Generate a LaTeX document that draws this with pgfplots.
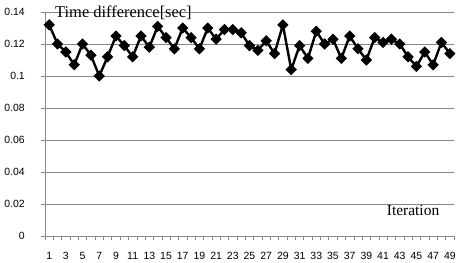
\documentclass[border=0pt]{standalone}
\usepackage{fontspec}
\setmainfont{Liberation Sans}
\newfontfamily\seriffont{Liberation Serif}
\usepackage{pgfplots}
\pgfplotsset{compat=1.18}
\definecolor{axgray}{RGB}{134,134,134}
\begin{document}
\begin{tikzpicture}
\path[use as bounding box] (-45bp,-27bp) rectangle (413bp,236bp);
\begin{axis}[
  at={(0,0)}, anchor=south west,
  scale only axis,
  width=409bp, height=224bp,
  xmin=0.5, xmax=49.5,
  ymin=0, ymax=0.14,
  ytick={0,0.02,...,0.14},
  xtick={1,3,...,49},
  minor xtick={0.5,1.5,...,49.5},
  axis x line*=bottom, axis y line*=left,
  axis line style={draw=axgray, line width=0.8bp, -},
  ymajorgrids,
  major grid style={draw=axgray, line width=0.8bp},
  tick align=outside,
  major x tick style={draw=none},
  minor x tick style={draw=axgray, line width=0.6bp},
  minor tick length=3.5bp,
  major y tick style={draw=axgray, line width=0.6bp},
  major tick length=4bp,
  /pgf/number format/assume math mode=true,
  /pgf/number format/fixed,
  /pgf/number format/precision=2,
  yticklabel style={font=\fontsize{10.5}{12}\selectfont, anchor=east, inner sep=0pt, xshift=-16bp},
  xticklabel style={font=\fontsize{10.5}{12}\selectfont, anchor=base, inner sep=0pt, yshift=-19.5bp},
  clip=false,
]
\addplot[black, line width=2.4bp, mark=square*, mark size=2.8bp, mark options={rotate=45, solid}] coordinates {
(1,0.132) (2,0.120) (3,0.115) (4,0.107) (5,0.120) (6,0.113) (7,0.100)
(8,0.112) (9,0.125) (10,0.119) (11,0.112) (12,0.125) (13,0.118) (14,0.131)
(15,0.124) (16,0.117) (17,0.130) (18,0.124) (19,0.117) (20,0.130) (21,0.123)
(22,0.129) (23,0.129) (24,0.127) (25,0.119) (26,0.116) (27,0.122) (28,0.114)
(29,0.132) (30,0.104) (31,0.119) (32,0.111) (33,0.128) (34,0.120) (35,0.123)
(36,0.111) (37,0.125) (38,0.117) (39,0.110) (40,0.124) (41,0.121) (42,0.123)
(43,0.120) (44,0.112) (45,0.106) (46,0.115) (47,0.107) (48,0.121) (49,0.114)
};
\end{axis}
\node[anchor=base west, inner sep=0pt, font=\seriffont\fontsize{16.5}{19}\selectfont] at (10bp,218bp) {Time difference[sec]};
\node[anchor=base west, inner sep=0pt, font=\seriffont\fontsize{15.5}{18}\selectfont] at (341.7bp,20.3bp) {Iteration};
\end{tikzpicture}
\end{document}
